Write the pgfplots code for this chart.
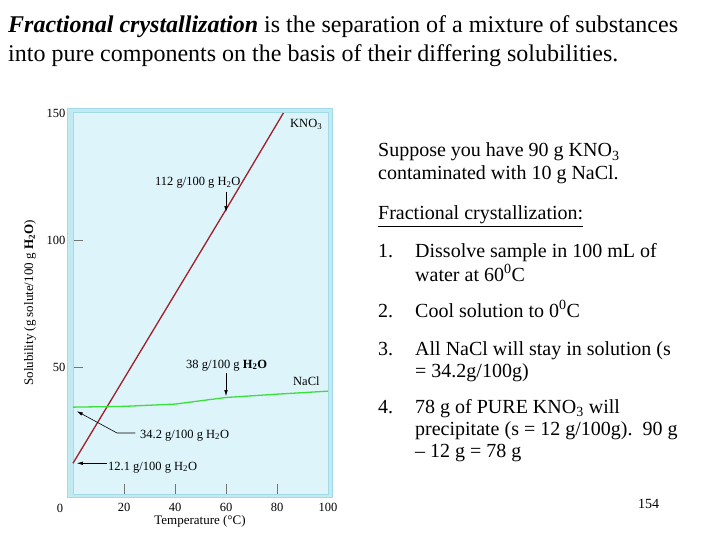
\documentclass[border=0pt]{standalone}
\usepackage{pgfplots}
\pgfplotsset{compat=1.18}
\usepackage{fontspec}
\setmainfont{Liberation Serif}
\usetikzlibrary{arrows.meta}

\definecolor{frameband}{HTML}{C2EAF3}
\definecolor{frameline}{HTML}{A3DAE8}
\definecolor{plotbg}{HTML}{DDF4FA}
\definecolor{kno3}{HTML}{A01E2C}
\definecolor{nacl}{HTML}{3CE03C}

\newcommand{\headfont}{\fontsize{24}{28}\selectfont}
\newcommand{\bodyfont}{\fontsize{20}{23}\selectfont}
\newcommand{\plotfont}{\fontsize{12.5}{14}\selectfont}
\newcommand{\labelfont}{\fontsize{13}{15}\selectfont}

\begin{document}
\begin{tikzpicture}[x=1pt,y=-1pt]
\useasboundingbox (0,0) rectangle (720,540);

% heading
\node[anchor=base west, inner sep=0, font=\headfont] at (8,33)
  {\textbf{\textit{Fractional crystallization}} is the separation of a mixture of substances};
\node[anchor=base west, inner sep=0, font=\headfont] at (8,62)
  {into pure components on the basis of their differing solubilities.};

% panel border around the plot
\filldraw[fill=frameband, draw=frameline] (67.5,108.5) rectangle (332.5,497.5);

\begin{axis}[
  at={(73pt,-494pt)}, anchor=south west,
  scale only axis, width=255pt, height=381pt,
  xmin=0, xmax=100, ymin=0, ymax=150,
  axis background/.style={fill=plotbg},
  axis line style={frameline, line width=1pt},
  xtick={20,40,60,80}, ytick={50,100},
  extra x ticks={100}, extra y ticks={150},
  extra tick style={major tick length=0pt},
  tick pos=left, tick align=inside,
  major tick length=10pt,
  tick style={black!55, line width=0.6pt},
  ticklabel style={font=\plotfont},
  /pgf/number format/assume math mode=true,
  yticklabel style={xshift=-4pt},
  xticklabel style={yshift=-6pt},
  clip=false,
]
% solubility curves
\addplot[kno3, line width=1.3pt] coordinates {(0,12.1) (60,112) (82.5,150)};
\addplot[nacl, line width=1.3pt] coordinates {(0,34.2) (20,34.5) (40,35.4) (60,38) (80,39.3) (100,40.5)};

% annotation arrows
\draw[-{Latex[length=6pt,width=3.5pt]}, line width=0.6pt] (axis cs:60,119) -- (axis cs:60,111);
\draw[-{Latex[length=6pt,width=3.5pt]}, line width=0.6pt] (axis cs:60,47.6) -- (axis cs:60,38.5);
\draw[-{Latex[length=6pt,width=3.5pt]}, line width=0.6pt] (axis cs:24.5,24) -- (axis cs:17.3,24) -- (axis cs:1.5,32.6);
\draw[-{Latex[length=6pt,width=3.5pt]}, line width=0.6pt] (axis cs:13.3,12.1) -- (axis cs:1.5,12.1);
\end{axis}

% plot labels
\begin{scope}[every node/.style={inner sep=0, font=\plotfont}]
\node[anchor=base west] at (290,128) {KNO\textsubscript{3}};
\node[anchor=base west] at (155,186) {112 g/100 g H\textsubscript{2}O};
\node[anchor=base west] at (186,368) {38 g/100 g \textbf{H\textsubscript{2}O}};
\node[anchor=base west] at (293,385) {NaCl};
\node[anchor=base west] at (140,438) {34.2 g/100 g H\textsubscript{2}O};
\node[anchor=base west] at (108,470) {12.1 g/100 g H\textsubscript{2}O};
\node at (60,508) {0};
\node[font=\labelfont] at (200,521) {Temperature (°C)};
\node[rotate=90, font=\labelfont] at (30,303) {Solubility (g solute/100 g \textbf{H\textsubscript{2}O})};
\end{scope}

% worked example
\begin{scope}[every node/.style={inner sep=0, font=\bodyfont, anchor=base west}]
\node at (378,157) {Suppose you have 90 g KNO\textsubscript{3}};
\node at (378,180) {contaminated with 10 g NaCl.};
\node at (378,220) {\underline{Fractional crystallization:}};
\node at (378,257) {1.};
\node at (415,257) {Dissolve sample in 100 mL of};
\node at (415,281) {water at 60\textsuperscript{0}C};
\node at (378,317) {2.};
\node at (415,317) {Cool solution to 0\textsuperscript{0}C};
\node at (378,355) {3.};
\node at (415,355) {All NaCl will stay in solution (s};
\node at (415,377) {= 34.2g/100g)};
\node at (378,413) {4.};
\node at (415,413) {78 g of PURE KNO\textsubscript{3} will};
\node at (415,435) {precipitate (s = 12 g/100g).\ \ 90 g};
\node at (415,457) {– 12 g = 78 g};
\end{scope}
\node[anchor=base west, inner sep=0, font=\fontsize{14}{16}\selectfont] at (638,508) {154};
\end{tikzpicture}
\end{document}
